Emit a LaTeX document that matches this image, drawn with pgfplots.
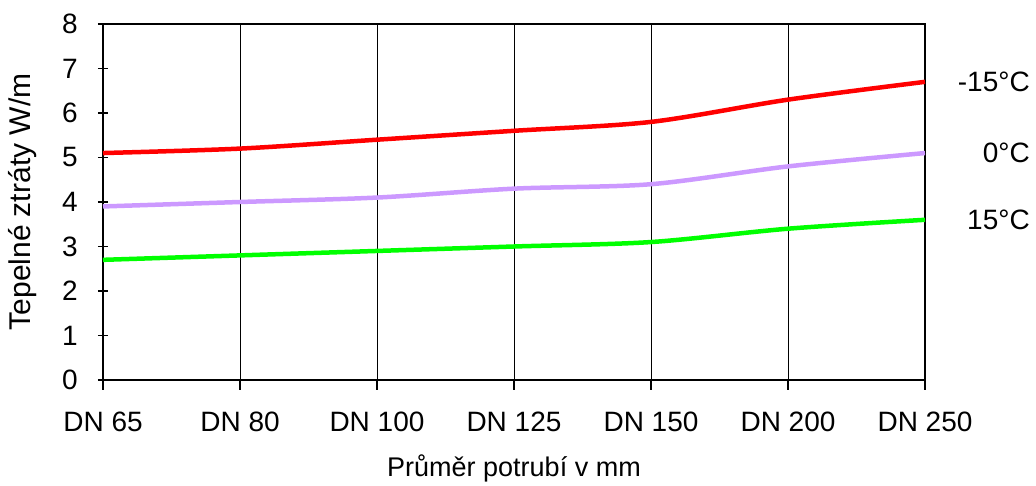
\documentclass[border=0pt]{standalone}
\usepackage{pgfplots}
\pgfplotsset{compat=1.18}
\usepackage{fontspec}
\setmainfont{Liberation Sans}
\definecolor{cred}{HTML}{FF0000}
\definecolor{cpurple}{HTML}{CC99FF}
\definecolor{cgreen}{HTML}{00FF00}
\begin{document}
\begin{tikzpicture}
\useasboundingbox (-103pt,-106pt) rectangle (933pt,380pt);
\begin{axis}[
  at={(0pt,0pt)}, anchor=south west,
  scale only axis, width=822pt, height=356pt,
  xmin=0, xmax=6, ymin=0, ymax=8,
  xtick={0,...,6},
  xticklabels={DN 65,DN 80,DN 100,DN 125,DN 150,DN 200,DN 250},
  ytick={0,...,8},
  xmajorgrids, grid style={black, line width=0.8pt},
  font=\fontsize{28}{32}\selectfont,
  /pgf/number format/assume math mode=true,
  tick style={black, line width=1.2pt},
  major tick length=10pt,
  xtick pos=bottom, ytick pos=left,
  x tick label style={anchor=center, inner sep=0pt, yshift=-32pt},
  y tick label style={anchor=east, inner sep=0pt, xshift=-20pt},
  xtick align=outside, ytick align=center,
  axis line style={line width=1.8pt},
  xlabel={Průměr potrubí v mm},
  ylabel={Tepelné ztráty W/m},
  xlabel style={at={([yshift=-88pt]axis description cs:0.5,0)}, anchor=center, font=\fontsize{27}{31}\selectfont},
  ylabel style={at={([xshift=-80pt]axis description cs:0,0.5)}, anchor=center, font=\fontsize{30}{34}\selectfont},
  clip=false,
]
\addplot[cred, line width=4.5pt, smooth, tension=0.5] coordinates {(0,5.1) (1,5.2) (2,5.4) (3,5.6) (4,5.8) (5,6.3) (6,6.7)};
\addplot[cpurple, line width=4.5pt, smooth, tension=0.5] coordinates {(0,3.9) (1,4.0) (2,4.1) (3,4.3) (4,4.4) (5,4.8) (6,5.1)};
\addplot[cgreen, line width=4.5pt, smooth, tension=0.5] coordinates {(0,2.7) (1,2.8) (2,2.9) (3,3.0) (4,3.1) (5,3.4) (6,3.6)};
\node[anchor=east, inner sep=0pt] at ([xshift=105pt]axis cs:6,6.7) {-15°C};
\node[anchor=east, inner sep=0pt] at ([xshift=105pt]axis cs:6,5.1) {0°C};
\node[anchor=east, inner sep=0pt] at ([xshift=105pt]axis cs:6,3.6) {15°C};
\end{axis}
\end{tikzpicture}
\end{document}
